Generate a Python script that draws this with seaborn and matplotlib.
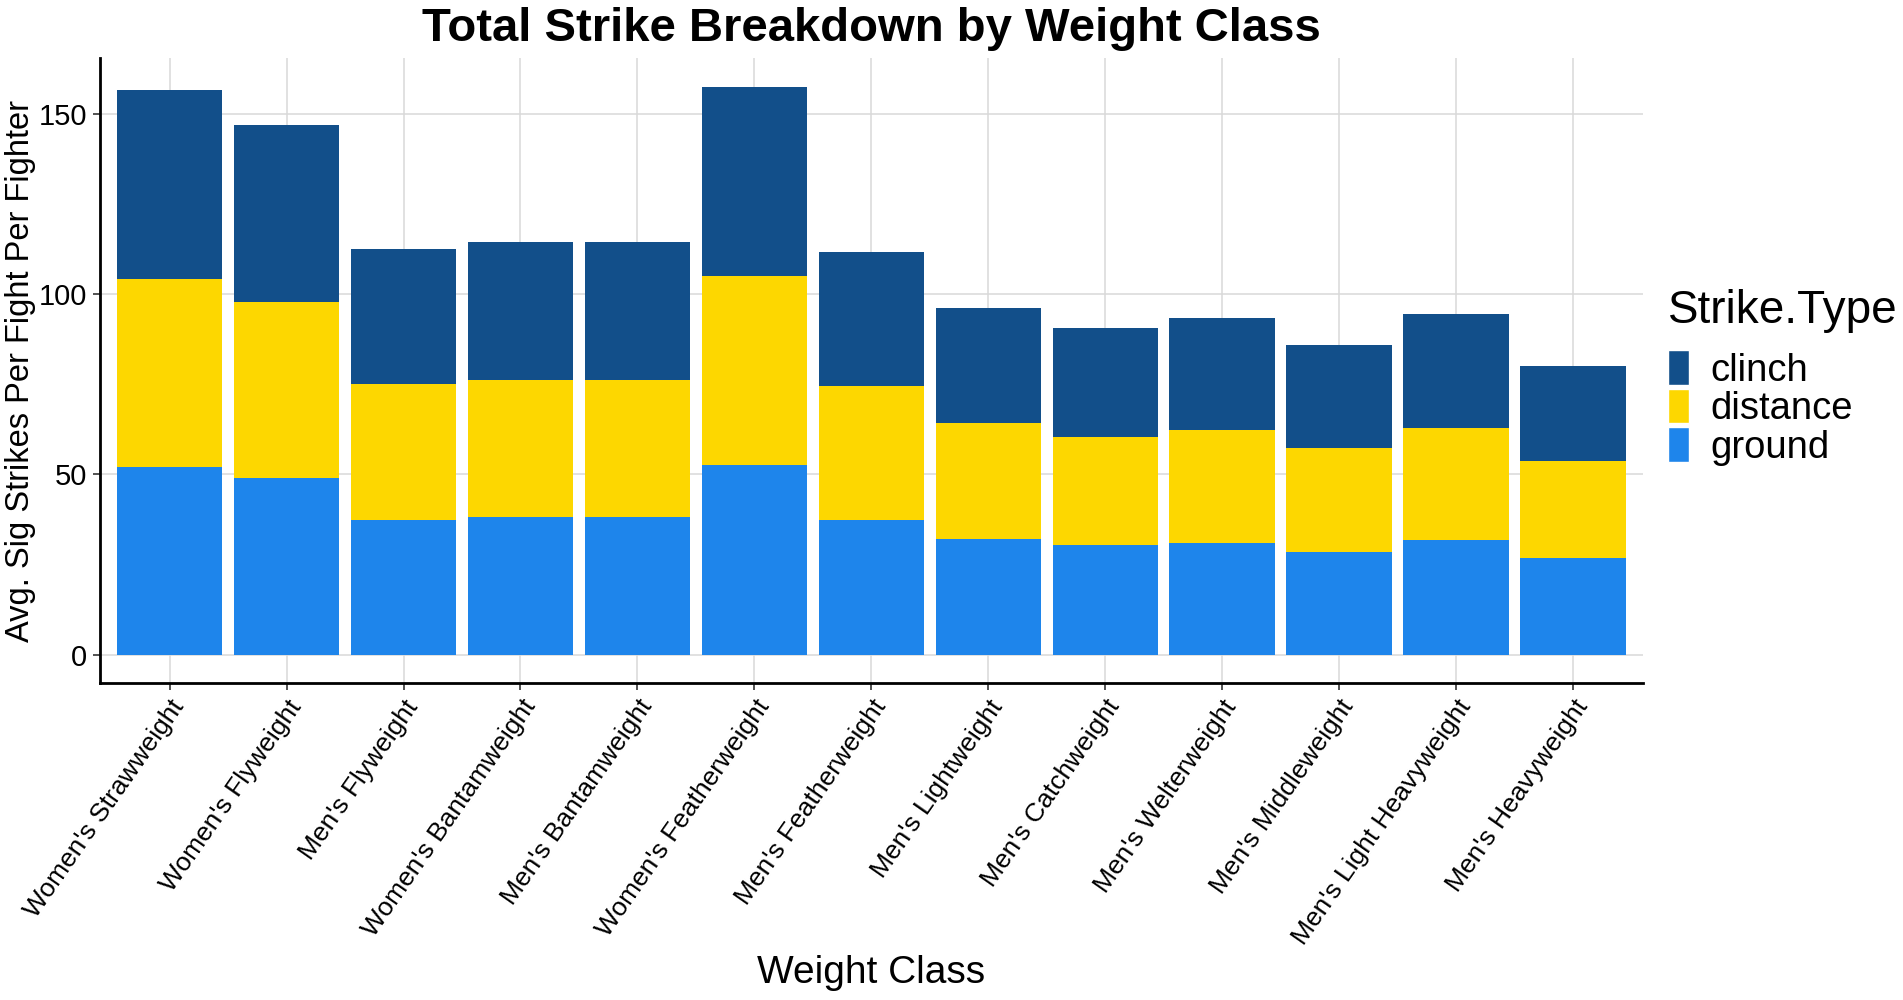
import matplotlib
matplotlib.use("Agg")
import matplotlib.pyplot as plt
import seaborn as sns
import numpy as np
import pandas as pd
from matplotlib.patches import Patch

# Data
weight_classes = [
    "Women's Strawweight", "Women's Flyweight", "Men's Flyweight",
    "Women's Bantamweight", "Men's Bantamweight", "Women's Featherweight",
    "Men's Featherweight", "Men's Lightweight", "Men's Catchweight",
    "Men's Welterweight", "Men's Middleweight", "Men's Light Heavyweight",
    "Men's Heavyweight",
]
ground = [52.1, 49.1, 37.4, 38.2, 38.2, 52.5, 37.3, 32.2, 30.3, 31.1, 28.6, 31.7, 26.7]
distance = [52.2, 48.8, 37.7, 38.0, 38.0, 52.6, 37.2, 32.2, 30.2, 31.3, 28.8, 31.3, 26.9]
clinch = [52.5, 49.0, 37.5, 38.3, 38.3, 52.4, 37.3, 31.9, 30.2, 31.0, 28.6, 31.6, 26.5]

strike_types = ["clinch", "distance", "ground"]
colors = {"clinch": "#124f8a", "distance": "#fdd700", "ground": "#1e85eb"}

df = pd.DataFrame({
    "Weight Class": weight_classes,
    "ground": ground,
    "distance": distance,
    "clinch": clinch,
})
df["ground_top"] = df["ground"]
df["distance_top"] = df["ground"] + df["distance"]
df["clinch_top"] = df["distance_top"] + df["clinch"]

sns.set_theme(style="whitegrid")
plt.rcParams["font.family"] = ["Liberation Sans", "DejaVu Sans"]
plt.rcParams.update({"text.color": "black", "axes.labelcolor": "black",
                     "xtick.color": "black", "ytick.color": "black"})

fig = plt.figure(figsize=(19.03, 10), dpi=100)
ax = fig.add_axes([0.0523, 0.317, 0.8111, 0.625])

# Stacked bars drawn as overlapping cumulative bars
for col, st in [("clinch_top", "clinch"), ("distance_top", "distance"), ("ground_top", "ground")]:
    sns.barplot(data=df, x="Weight Class", y=col, color=colors[st], saturation=1,
                width=0.9, ax=ax, linewidth=0, errorbar=None)

ax.set_xlim(-0.6, len(weight_classes) - 0.4)
ax.set_ylim(-7.9, 165.6)
ax.set_yticks([0, 50, 100, 150])

ax.grid(True, color="#d9d9d9", linewidth=1.1)
ax.set_axisbelow(True)
for side in ["top", "right"]:
    ax.spines[side].set_visible(False)
for side in ["left", "bottom"]:
    ax.spines[side].set_color("black")
    ax.spines[side].set_linewidth(2.0)

ax.tick_params(axis="both", which="both", length=5, width=1.2, color="#333333",
               bottom=True, left=True)
ax.tick_params(axis="y", labelsize=21, labelcolor="black", pad=4)
ax.tick_params(axis="x", labelsize=19, labelcolor="black", pad=4)
plt.setp(ax.get_xticklabels(), rotation=55, ha="right", rotation_mode="anchor")

ax.set_title("Total Strike Breakdown by Weight Class", fontsize=34, fontweight="bold", pad=12)
ax.set_xlabel("Weight Class", fontsize=28, labelpad=4)
ax.set_ylabel("Avg. Sig Strikes Per Fight Per Fighter", fontsize=23.5, labelpad=2)

# legend: title as separate text so the gap to the keys can match
fig.text(0.8765, 0.677, "Strike.Type", fontsize=33, ha="left", va="baseline")
handles = [Patch(facecolor=colors[s], edgecolor="white", linewidth=1.0) for s in strike_types]
fig.legend(handles, strike_types, loc="upper left",
           bbox_to_anchor=(0.8585, 0.684), frameon=False, fontsize=27.5,
           handlelength=0.55, handleheight=1.02,
           labelspacing=0.0, handletextpad=0.55)

fig.savefig("out.png", dpi=100, facecolor="white")
